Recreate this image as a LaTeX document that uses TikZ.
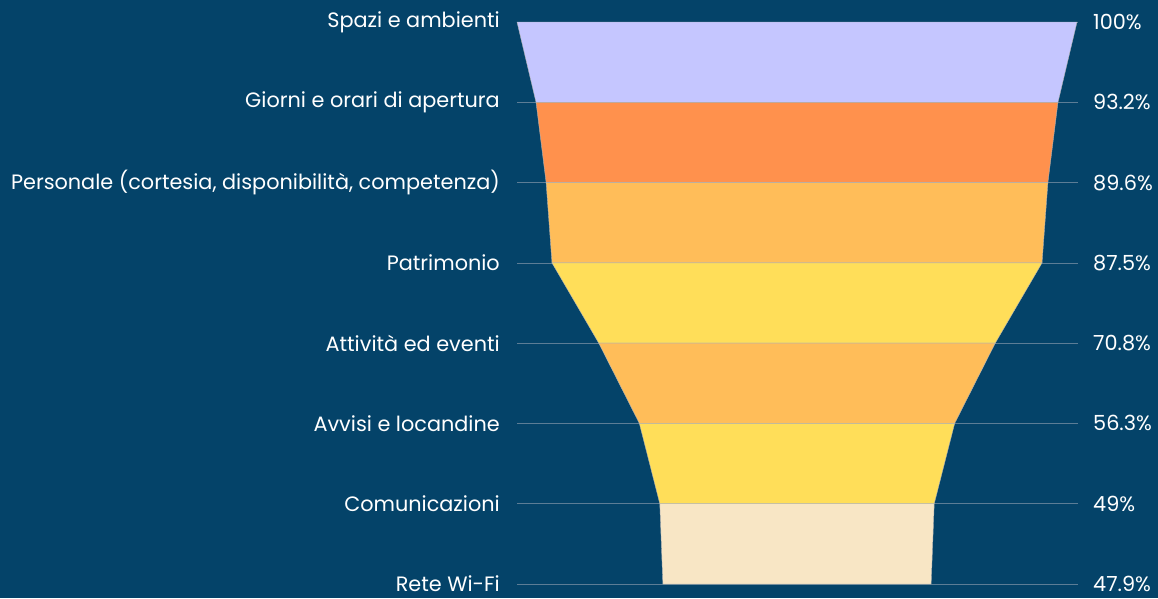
\documentclass[tikz,border=0pt]{standalone}
\usepackage{fontspec}
\setmainfont{Poppins}
\definecolor{bg}{HTML}{044369}
\definecolor{grid}{HTML}{5C7D96}
\definecolor{cA}{HTML}{C5C6FF}
\definecolor{cB}{HTML}{FF914D}
\definecolor{cC}{HTML}{FFBD59}
\definecolor{cD}{HTML}{FFDE59}
\definecolor{cE}{HTML}{F8E6C5}
\begin{document}
\begin{tikzpicture}[x=1pt,y=-1pt,
  lbl/.style={text=white,font=\fontsize{20.8}{22}\selectfont,inner sep=0pt},
  gridline/.style={draw=grid,line width=0.7pt},
  band/.style={draw=gray!60,line width=0.4pt}]
\fill[bg] (0,0) rectangle (1158,598);
\useasboundingbox (0,0) rectangle (1158,598);
% grid lines
\foreach \yy in {22,102.3,182.6,262.9,343.1,423.4,503.7,584}
  \draw[gridline] (517,\yy) -- (1078,\yy);
% bands: y1, y2, halfwidth1, halfwidth2, colour
\foreach \ya/\yb/\wa/\wb/\cc in {
  22/102.3/280/260.96/cA,
  102.3/182.6/260.96/250.88/cB,
  182.6/262.9/250.88/245/cC,
  262.9/343.1/245/198.24/cD,
  343.1/423.4/198.24/157.64/cC,
  423.4/503.7/157.64/137.2/cD,
  503.7/584/137.2/134.12/cE}
  \filldraw[band,fill=\cc] (797-\wa,\ya) -- (797+\wa,\ya) -- (797+\wb,\yb) -- (797-\wb,\yb) -- cycle;
% left labels
\node[lbl,anchor=east] (l1) at (500,22) {Spazi e ambienti};
\node[lbl,anchor=east] (l2) at (500,102.3) {Giorni e orari di apertura};
\node[lbl,anchor=east] (l3) at (500,182.6) {Personale (cortesia, disponibilità, competenza)};
\node[lbl,anchor=east] (l4) at (500,262.9) {Patrimonio};
\node[lbl,anchor=east] (l5) at (500,343.1) {Attività ed eventi};
\node[lbl,anchor=east] (l6) at (500,423.4) {Avvisi e locandine};
\node[lbl,anchor=east] (l7) at (500,503.7) {Comunicazioni};
\node[lbl,anchor=east] (l8) at (500,584) {Rete Wi-Fi};
% right labels
\node[lbl,anchor=west] (r1) at (1093,22) {100\%};
\node[lbl,anchor=west] (r2) at (1093,102.3) {93.2\%};
\node[lbl,anchor=west] (r3) at (1093,182.6) {89.6\%};
\node[lbl,anchor=west] (r4) at (1093,262.9) {87.5\%};
\node[lbl,anchor=west] (r5) at (1093,343.1) {70.8\%};
\node[lbl,anchor=west] (r6) at (1093,423.4) {56.3\%};
\node[lbl,anchor=west] (r7) at (1093,503.7) {49\%};
\node[lbl,anchor=west] (r8) at (1093,584) {47.9\%};
\end{tikzpicture}
\end{document}
